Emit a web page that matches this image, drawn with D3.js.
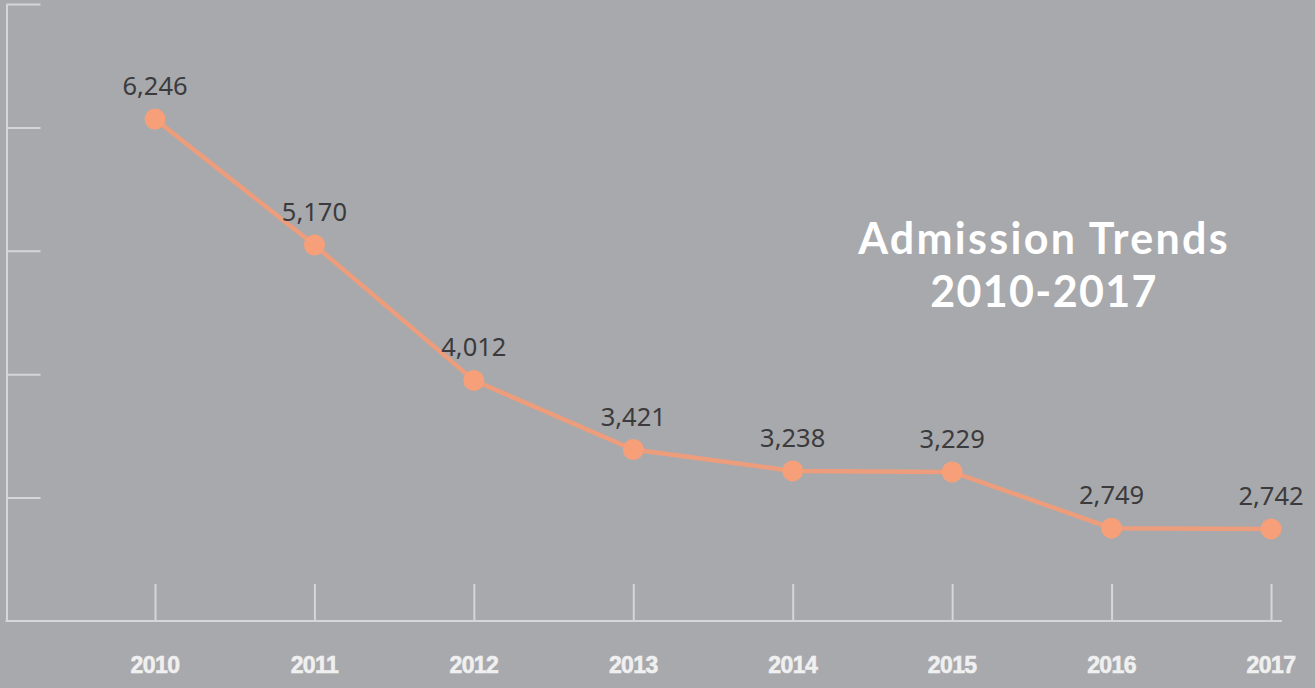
<!DOCTYPE html>
<html>
<head>
<meta charset="utf-8">
<script src="https://cdn.jsdelivr.net/npm/d3@7"></script>
<style>
    html, body { margin: 0; padding: 0; background: #a8a9ac; }
    svg { display: block; }
</style>
</head>
<body>
<svg id="chart"></svg>
<script>
// Chart data
const years = ['2010', '2011', '2012', '2013', '2014', '2015', '2016', '2017'];
const admissions = [6246, 5170, 4012, 3421, 3238, 3229, 2749, 2742];
const titleLines = ['Admission Trends', '2010-2017'];
const yDomain = [1955, 7230]; // unlabeled axis, 5 equal steps

const width = 1315;
const height = 688;
const axisColor = '#d5d6d8';
const lineColor = '#ee9d7c';
const dotColor = '#f79f78';

const svg = d3.select('#chart')
    .attr('width', width)
    .attr('height', height);

svg.append('rect')
    .attr('width', width)
    .attr('height', height)
    .attr('fill', '#a8a9ac');

const x = d3.scalePoint()
    .domain(years)
    .range([155, 1271]);

const y = d3.scaleLinear()
    .domain(yDomain)
    .range([621, 4]);

// y ticks split the domain in five
const yTicks = d3.range(6).map(i => yDomain[0] + i * (yDomain[1] - yDomain[0]) / 5);

// Left axis (ticks pointing right)
const yAxis = svg.append('g')
    .attr('transform', 'translate(6.5,0)')
    .call(d3.axisLeft(y).tickValues(yTicks.slice(1)).tickSize(-34).tickSizeOuter(0).tickFormat(''));
yAxis.selectAll('path, line')
    .attr('stroke', axisColor)
    .attr('stroke-width', 2);

// Bottom axis line, then ticks pointing up
svg.append('line')
    .attr('x1', 5.5)
    .attr('x2', 1282)
    .attr('y1', y(yDomain[0]))
    .attr('y2', y(yDomain[0]))
    .attr('stroke', axisColor)
    .attr('stroke-width', 2);

const xAxis = svg.append('g')
    .attr('transform', `translate(0,${y(yDomain[0])})`)
    .call(d3.axisTop(x).tickSize(37).tickSizeOuter(0).tickFormat(''));
xAxis.select('.domain').remove();
xAxis.selectAll('line')
    .attr('stroke', axisColor)
    .attr('stroke-width', 2);

// Year labels
svg.append('g')
    .selectAll('text')
    .data(years)
    .enter()
    .append('text')
    .attr('x', d => x(d))
    .attr('y', 673)
    .attr('text-anchor', 'middle')
    .attr('fill', '#f0f0f0')
    .style('font-family', "'Liberation Sans', Arial, sans-serif")
    .style('font-weight', 'bold')
    .style('font-size', '23px')
    .style('letter-spacing', '-0.6px')
    .style('stroke', '#f0f0f0')
    .style('stroke-width', '0.6px')
    .text(d => d);

// Trend line
const line = d3.line()
    .x((d, i) => x(years[i]))
    .y(d => y(d));

svg.append('path')
    .datum(admissions)
    .attr('d', line)
    .attr('fill', 'none')
    .attr('stroke', lineColor)
    .attr('stroke-width', 4.5);

svg.append('g')
    .selectAll('circle')
    .data(admissions)
    .enter()
    .append('circle')
    .attr('cx', (d, i) => x(years[i]))
    .attr('cy', d => y(d))
    .attr('r', 10.5)
    .attr('fill', dotColor);

// Value labels
svg.append('g')
    .selectAll('text')
    .data(admissions)
    .enter()
    .append('text')
    .attr('x', (d, i) => x(years[i]))
    .attr('y', d => y(d) - 24)
    .attr('text-anchor', 'middle')
    .attr('fill', '#3b3b3d')
    .style('font-family', "'Noto Sans', 'Open Sans', sans-serif")
    .style('font-size', '25.5px')
    .text(d => d3.format(',')(d));

// Title
svg.append('g')
    .selectAll('text')
    .data(titleLines)
    .enter()
    .append('text')
    .attr('x', 1044)
    .attr('y', (d, i) => 254 + i * 53)
    .attr('text-anchor', 'middle')
    .attr('fill', '#ffffff')
    .style('font-family', "Lato, 'Open Sans', sans-serif")
    .style('font-weight', 'bold')
    .style('font-size', '43px')
    .style('letter-spacing', (d, i) => i === 0 ? '2.3px' : '1.3px')
    .text(d => d);
</script>
</body>
</html>
